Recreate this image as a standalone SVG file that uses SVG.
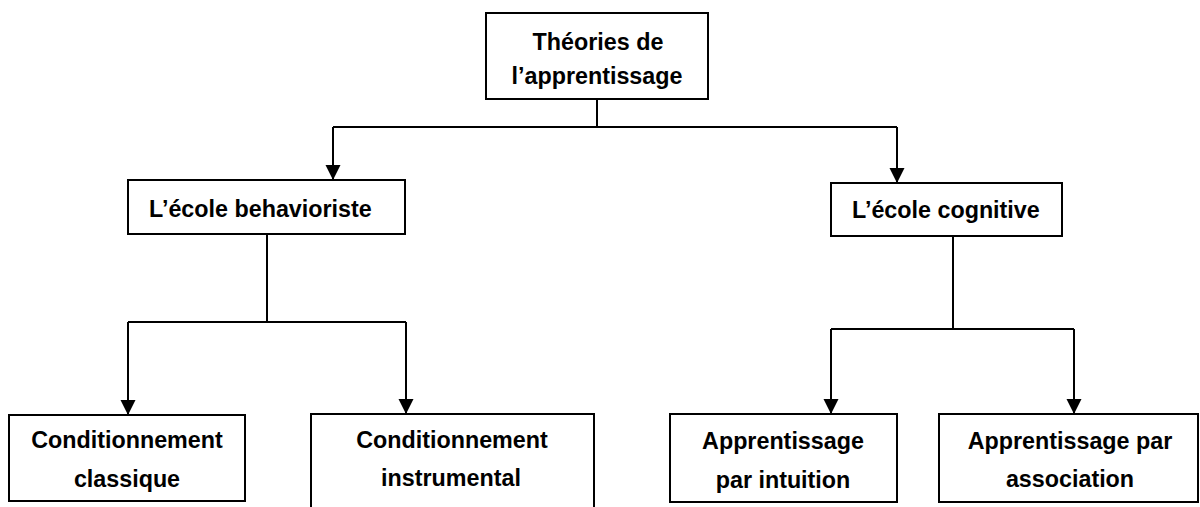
<svg xmlns="http://www.w3.org/2000/svg" width="1200" height="507" viewBox="0 0 1200 507">
<style>
.box{fill:#fff;stroke:#000;stroke-width:2}
.t{font-family:"Liberation Sans",Arial,sans-serif;font-weight:bold;font-size:23.3px;fill:#000}
.c{text-anchor:middle}
.ln{fill:none;stroke:#000;stroke-width:2}
.ar{fill:none;stroke:#000;stroke-width:2;marker-end:url(#ah)}
</style>
<defs>
<marker id="ah" markerUnits="userSpaceOnUse" markerWidth="16" markerHeight="16" viewBox="0 0 16 16" refX="15" refY="7.5" orient="auto">
<path d="M0,0 L15,7.5 L0,15 z" fill="#000"/>
</marker>
</defs>
<rect width="1200" height="507" fill="#fff"/>
<g id="connectors">
<path class="ln" d="M597,99 V127 M333,127 H897"/>
<path class="ar" d="M333,127 V180"/>
<path class="ar" d="M897,127 V183"/>
<path class="ln" d="M267,234 V322 M128,322 H406"/>
<path class="ar" d="M128,322 V415"/>
<path class="ar" d="M406,322 V414"/>
<path class="ln" d="M953,236 V329 M831,329 H1074"/>
<path class="ar" d="M831,329 V414"/>
<path class="ar" d="M1074,329 V414"/>
</g>
<g id="theories">
<rect class="box" x="486" y="13" width="222" height="86"/>
<text class="t c" x="598" y="50">Théories de</text>
<text class="t c" x="597" y="84">l’apprentissage</text>
</g>
<g id="behavioriste">
<rect class="box" x="128" y="180" width="277" height="54"/>
<text class="t" x="149" y="217">L’école behavioriste</text>
</g>
<g id="cognitive">
<rect class="box" x="831" y="183" width="231" height="53"/>
<text class="t" x="852" y="218">L’école cognitive</text>
</g>
<g id="classique">
<rect class="box" x="9" y="415" width="236" height="86"/>
<text class="t c" x="127" y="448">Conditionnement</text>
<text class="t c" x="127" y="487">classique</text>
</g>
<g id="instrumental">
<rect class="box" x="311" y="414" width="283" height="110"/>
<text class="t c" x="452" y="448">Conditionnement</text>
<text class="t c" x="451" y="486">instrumental</text>
</g>
<g id="intuition">
<rect class="box" x="670" y="414" width="227" height="88"/>
<text class="t c" x="783" y="449">Apprentissage</text>
<text class="t c" x="783" y="488">par intuition</text>
</g>
<g id="association">
<rect class="box" x="939" y="414" width="259" height="88"/>
<text class="t c" x="1070" y="449">Apprentissage par</text>
<text class="t c" x="1070" y="487">association</text>
</g>
</svg>
